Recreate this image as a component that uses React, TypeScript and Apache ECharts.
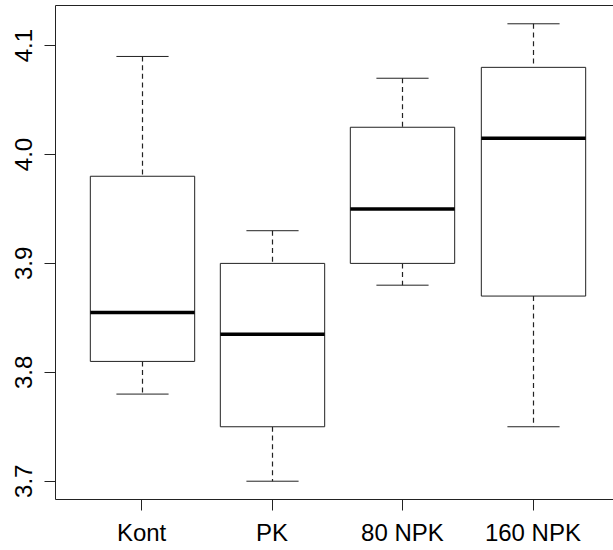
import React, { useEffect, useRef } from "react";
import * as echarts from "echarts";

const categories = ["Kont", "PK", "80 NPK", "160 NPK"];
const whiskerLow = [3.78, 3.7, 3.88, 3.75];
const quartile1 = [3.81, 3.75, 3.9, 3.87];
const medians = [3.855, 3.835, 3.95, 4.015];
const quartile3 = [3.98, 3.9, 4.025, 4.08];
const whiskerHigh = [4.09, 3.93, 4.07, 4.12];
const yTicks = [3.7, 3.8, 3.9, 4.0, 4.1];
const xTicks = [1, 2, 3, 4];

const LINE = "#222";
const FONT = "Liberation Sans, Arial, sans-serif";

export default function App() {
  const ref = useRef<HTMLDivElement>(null);
  useEffect(() => {
    if (!ref.current) return;
    const chart = echarts.init(ref.current, undefined, { renderer: "svg" });
    const data = categories.map((_, i) => [
      i + 1,
      whiskerLow[i],
      quartile1[i],
      medians[i],
      quartile3[i],
      whiskerHigh[i],
    ]);
    chart.setOption({
      animation: false,
      backgroundColor: "#fff",
      grid: {
        left: 55.5,
        top: 5.5,
        width: 563.5,
        height: 494,
        show: true,
        borderColor: LINE,
        borderWidth: 1,
        backgroundColor: "transparent",
      },
      xAxis: {
        type: "value",
        min: 0.34,
        max: 4.66,
        axisLine: { show: false },
        splitLine: { show: false },
        axisTick: {
          show: true,
          customValues: xTicks,
          length: 11,
          lineStyle: { color: LINE, width: 1 },
        },
        axisLabel: {
          customValues: xTicks,
          formatter: (v: number) => categories[Math.round(v) - 1] ?? "",
          fontSize: 24,
          fontFamily: FONT,
          color: "#000",
          margin: 21,
        },
      },
      yAxis: {
        type: "value",
        min: 3.6832,
        max: 4.1368,
        axisLine: { show: false },
        splitLine: { show: false },
        axisTick: {
          show: true,
          customValues: yTicks,
          length: 11,
          lineStyle: { color: LINE, width: 1 },
        },
        axisLabel: {
          customValues: yTicks,
          formatter: (v: number) => v.toFixed(1),
          rotate: 90,
          fontSize: 24,
          fontFamily: FONT,
          color: "#000",
          margin: 20,
        },
      },
      series: [
        {
          type: "custom",
          data,
          encode: { x: 0, y: [1, 2, 3, 4, 5] },
          renderItem: (params: any, api: any) => {
            const x = api.value(0);
            const lo = api.value(1);
            const q1 = api.value(2);
            const med = api.value(3);
            const q3 = api.value(4);
            const hi = api.value(5);
            const c = (xx: number, yy: number) => api.coord([xx, yy]);
            const pLo = c(x, lo);
            const pQ1 = c(x, q1);
            const pMed = c(x, med);
            const pQ3 = c(x, q3);
            const pHi = c(x, hi);
            const halfBox = api.size([0.4, 0])[0];
            const halfCap = api.size([0.2, 0])[0];
            const cx = Math.round(pMed[0]) + 0.5;
            const dashed = { stroke: LINE, lineWidth: 1.2, lineDash: [5, 3.7] };
            const solid = { stroke: LINE, lineWidth: 1 };
            return {
              type: "group",
              children: [
                {
                  type: "line",
                  shape: { x1: cx, y1: pHi[1], x2: cx, y2: pQ3[1] },
                  style: dashed,
                },
                {
                  type: "line",
                  shape: { x1: cx, y1: pQ1[1], x2: cx, y2: pLo[1] },
                  style: dashed,
                },
                {
                  type: "line",
                  shape: { x1: cx - halfCap, y1: pHi[1], x2: cx + halfCap, y2: pHi[1] },
                  style: solid,
                },
                {
                  type: "line",
                  shape: { x1: cx - halfCap, y1: pLo[1], x2: cx + halfCap, y2: pLo[1] },
                  style: solid,
                },
                {
                  type: "rect",
                  shape: {
                    x: cx - halfBox,
                    y: pQ3[1],
                    width: halfBox * 2,
                    height: pQ1[1] - pQ3[1],
                  },
                  style: { fill: "#fff", stroke: LINE, lineWidth: 1 },
                },
                {
                  type: "line",
                  shape: { x1: cx - halfBox, y1: pMed[1], x2: cx + halfBox, y2: pMed[1] },
                  style: { stroke: "#000", lineWidth: 3.5 },
                },
              ],
            };
          },
        },
      ],
    });
    return () => chart.dispose();
  }, []);
  return (
    <div
      style={{ position: "fixed", left: 0, top: 0, width: 613, height: 550, overflow: "hidden", background: "#fff" }}
    >
      <div ref={ref} style={{ width: 640, height: 550 }} />
    </div>
  );
}
